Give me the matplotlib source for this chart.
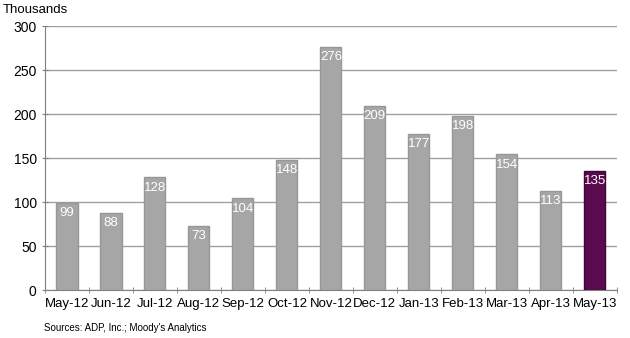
import matplotlib.pyplot as plt
import numpy as np

plt.rcParams['font.family'] = ['Liberation Sans', 'DejaVu Sans']

months = ['May-12', 'Jun-12', 'Jul-12', 'Aug-12', 'Sep-12', 'Oct-12', 'Nov-12',
          'Dec-12', 'Jan-13', 'Feb-13', 'Mar-13', 'Apr-13', 'May-13']
jobs = [99, 88, 128, 73, 104, 148, 276, 209, 177, 198, 154, 113, 135]

colors = ['#A6A6A6'] * (len(jobs) - 1) + ['#5C0A50']
edges = ['#979797'] * (len(jobs) - 1) + ['#3E0636']

fig = plt.figure(figsize=(6.3, 3.38), dpi=100)
ax = fig.add_axes([0.0714, 0.142, 0.9076, 0.781])

x = np.arange(len(jobs))
ax.bar(x, jobs, width=0.48, color=colors, edgecolor=edges, linewidth=1, zorder=3)

for xi, v in zip(x, jobs):
    ax.annotate(str(v), (xi, v), xytext=(0, -3), textcoords='offset points',
                ha='center', va='top', color='white', fontsize=9.5, zorder=4)

ax.set_xlim(-0.5, len(jobs) - 0.5)
ax.set_ylim(0, 300)
ax.set_yticks(range(0, 301, 50))
ax.yaxis.grid(True, color='#A0A0A0', linewidth=1, zorder=0)
ax.set_xticks(x)
ax.set_xticklabels(months)
ax.set_xticks(np.arange(-0.5, len(jobs)), minor=True)
ax.tick_params(axis='x', which='major', length=0, labelsize=9.5, pad=6)
ax.tick_params(axis='x', which='minor', length=5, direction='inout', color='#808080')
ax.tick_params(axis='y', length=4, direction='inout', color='#808080', labelsize=10, pad=4)

for s in ['top', 'right']:
    ax.spines[s].set_visible(False)
for s in ['left', 'bottom']:
    ax.spines[s].set_color('#808080')

fig.text(0.005, 0.97, 'Thousands', fontsize=9.5, va='bottom' if False else 'center')
fig.text(0.07, 0.03, "Sources: ADP, Inc.; Moody's Analytics", fontsize=7, va='center')

fig.savefig('out.png', dpi=100)
